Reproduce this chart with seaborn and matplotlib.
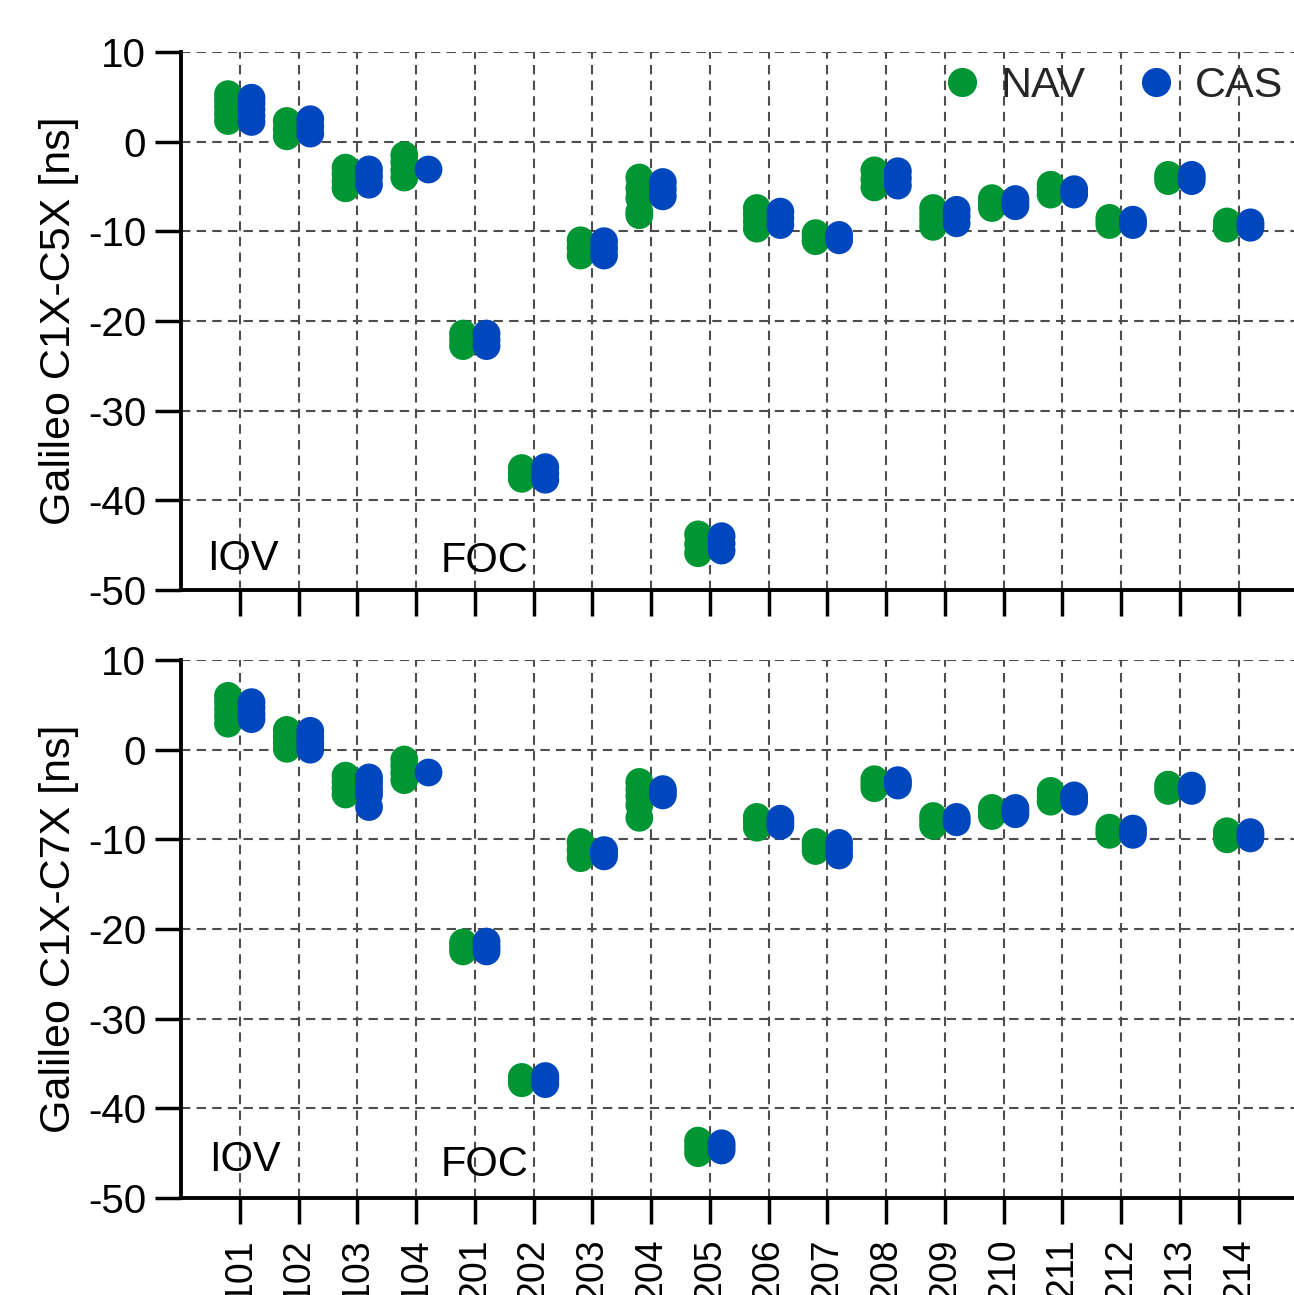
import matplotlib
matplotlib.use("Agg")
import matplotlib.pyplot as plt
import seaborn as sns
import pandas as pd
from matplotlib.lines import Line2D

sats = ["101", "102", "103", "104", "201", "202", "203", "204", "205",
        "206", "207", "208", "209", "210", "211", "212", "213", "214"]

# Galileo C1X-C5X [ns]
nav_c5x = [
    [2.3, 3.1, 3.9, 4.6, 5.3], [0.6, 1.4, 2.3], [-5.2, -4.4, -3.6, -2.9],
    [-4.0, -3.2, -2.3, -1.5], [-22.8, -22.1, -21.4], [-37.6, -37.0, -36.4],
    [-12.7, -11.8, -11.0], [-8.2, -7.8, -6.3, -5.2, -4.0], [-45.9, -44.9, -43.8],
    [-9.7, -8.9, -8.1, -7.4], [-11.1, -10.6, -10.2], [-5.1, -4.2, -3.2],
    [-9.5, -8.8, -8.1, -7.4], [-7.4, -6.8, -6.3], [-5.9, -5.3, -4.8],
    [-9.3, -8.9, -8.5], [-4.4, -4.0, -3.7], [-9.7, -9.3, -8.9],
]
cas_c5x = [
    [2.2, 2.9, 3.6, 4.3, 4.9], [0.9, 1.7, 2.5], [-4.8, -3.9, -3.1],
    [-3.1], [-22.8, -22.1, -21.4], [-37.7, -37.0, -36.3],
    [-12.7, -11.9, -11.1], [-6.1, -5.3, -4.5], [-45.6, -44.8, -44.0],
    [-9.3, -8.5, -7.8], [-11.0, -10.7, -10.4], [-4.9, -4.1, -3.3],
    [-9.1, -8.3, -7.6], [-7.2, -6.8, -6.4], [-5.9, -5.6, -5.3],
    [-9.3, -9.0, -8.7], [-4.4, -4.0, -3.7], [-9.6, -9.3, -9.0],
]
# Galileo C1X-C7X [ns]
nav_c7x = [
    [2.9, 3.7, 4.5, 5.3, 6.0], [0.1, 0.8, 1.5, 2.2], [-5.0, -4.3, -3.6, -2.9],
    [-3.4, -2.6, -1.8, -1.1], [-22.5, -22.0, -21.5], [-37.2, -36.8, -36.5],
    [-12.1, -11.2, -10.3], [-7.6, -6.2, -5.2, -4.4, -3.6], [-45.0, -44.3, -43.6],
    [-8.7, -8.1, -7.5], [-11.3, -10.8, -10.3], [-4.3, -3.8, -3.3],
    [-8.5, -7.9, -7.4], [-7.4, -6.9, -6.5], [-5.8, -5.2, -4.6],
    [-9.5, -9.1, -8.7], [-4.6, -4.2, -3.9], [-10.0, -9.5, -9.1],
]
cas_c7x = [
    [3.4, 4.0, 4.7, 5.3], [0.0, 0.7, 1.4, 2.1], [-6.4, -5.0, -4.4, -3.7, -3.1],
    [-2.5], [-22.5, -22.0, -21.4], [-37.3, -36.8, -36.4],
    [-11.9, -11.5, -11.2], [-5.1, -4.7, -4.4], [-44.7, -44.3, -43.9],
    [-8.5, -8.1, -7.7], [-11.8, -11.1, -10.4], [-4.0, -3.7, -3.4],
    [-8.1, -7.8, -7.5], [-7.2, -6.8, -6.5], [-5.8, -5.4, -5.1],
    [-9.5, -9.1, -8.8], [-4.6, -4.3, -4.0], [-9.9, -9.5, -9.2],
]

sources = ["NAV", "CAS"]
colors = ["#009633", "#0047BE"]
ylabels = ["Galileo C1X-C5X [ns]", "Galileo C1X-C7X [ns]"]
yticks = [10, 0, -10, -20, -30, -40, -50]


def to_df(nav, cas):
    rows = []
    for src, series in (("NAV", nav), ("CAS", cas)):
        for s, vals in zip(sats, series):
            for v in vals:
                rows.append({"sat": s, "value": v, "source": src})
    return pd.DataFrame(rows)


sns.set_theme(style="white")
plt.rcParams["font.family"] = ["Liberation Sans", "DejaVu Sans"]

W, H = 1294, 1295
fig = plt.figure(figsize=(W / 100, H / 100), dpi=100)
step = 58.76
ax_w = 19 * step
left = 181 / W
axes = [
    fig.add_axes([left, 1 - 590 / H, ax_w / W, 538 / H]),
    fig.add_axes([left, 1 - 1198 / H, ax_w / W, 538 / H]),
]

dfs = [to_df(nav_c5x, cas_c5x), to_df(nav_c7x, cas_c7x)]
texts = [[(-0.56, -47.75, "IOV"), (3.41, -47.97, "FOC")],
         [(-0.52, -47.0, "IOV"), (3.41, -47.5, "FOC")]]

for i, (ax, df) in enumerate(zip(axes, dfs)):
    ax.set_axisbelow(True)
    sns.stripplot(data=df, x="sat", y="value", hue="source", order=sats,
                  hue_order=sources, palette=colors, dodge=True, jitter=False,
                  size=20, linewidth=0, ax=ax, legend=False, zorder=3)
    ax.set_xlim(-1, 18)
    ax.set_ylim(-50, 10)
    ax.set_yticks(yticks)
    ax.set_yticklabels([str(t) for t in yticks], fontsize=29)
    ax.grid(True, color="#4d4d4d", linestyle=(0, (4.5, 3)), linewidth=1.5)
    for sp in ["top", "right"]:
        ax.spines[sp].set_visible(False)
    for sp in ["left", "bottom"]:
        ax.spines[sp].set_color("black")
        ax.spines[sp].set_linewidth(2.8)
    ax.tick_params(axis="both", direction="out", length=19, width=2.5,
                   color="black", labelcolor="black", bottom=True, left=True)
    ax.tick_params(axis="y", pad=6)
    ax.set_xlabel("")
    ax.set_ylabel(ylabels[i], fontsize=31, color="black")
    ax.yaxis.set_label_coords(-0.0914, 0.5)
    if i == 0:
        ax.set_xticklabels([])
    else:
        ax.set_xticklabels(sats, rotation=90, fontsize=27)
        ax.tick_params(axis="x", pad=10)
    for x, y, t in texts[i]:
        ax.text(x, y, t, fontsize=30, ha="left", va="baseline", color="black")

handles = [Line2D([0], [0], marker="o", linestyle="none", markersize=21,
                  markerfacecolor=c, markeredgewidth=0, label=s)
           for s, c in zip(sources, colors)]
fig.legend(handles=handles, loc="center left",
           bbox_to_anchor=(942 / W, 1 - 86 / H), bbox_transform=fig.transFigure,
           ncol=2, frameon=False, fontsize=31, borderpad=0, handlelength=0.95,
           handletextpad=0.42, columnspacing=1.15, borderaxespad=0)

fig.savefig("out.png", dpi=100)
